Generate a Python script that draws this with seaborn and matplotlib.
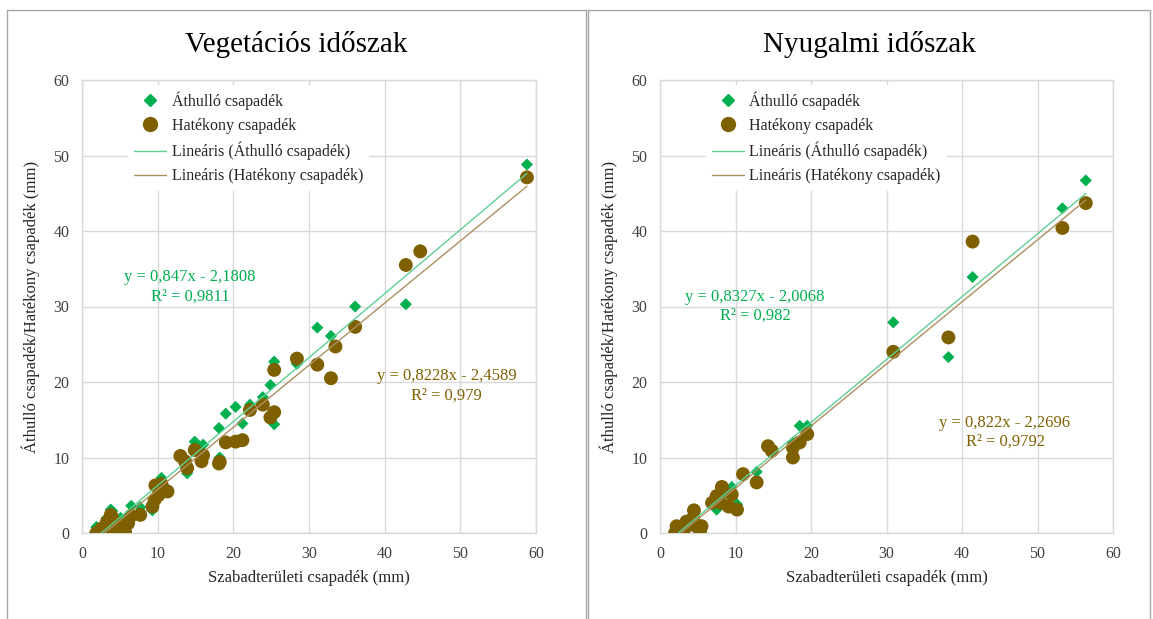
import numpy as np
import pandas as pd
import matplotlib
matplotlib.use("Agg")
import matplotlib.pyplot as plt
from matplotlib.patches import Rectangle
from matplotlib.lines import Line2D
import seaborn as sns

# Vegetációs időszak: open-field rainfall, throughfall, net rainfall (mm)
veg_open = [58.8, 44.7, 42.8, 36.1, 31.1, 32.9, 33.5, 28.4, 25.4, 25.4, 24.9, 23.9,
            22.2, 20.3, 21.2, 19.0, 18.1, 14.9, 16.0, 15.8, 13.0, 13.6, 13.9, 10.5,
            9.7, 11.3, 10.1, 9.6, 9.3, 7.7, 6.5, 6.1, 5.7, 3.8, 5.1, 4.7, 4.3, 3.3,
            2.6, 1.9, 3.2, 4.0, 18.2, 3.6, 2.3]
veg_thr = [48.8, 37.5, 30.3, 30.0, 27.2, 26.1, 24.8, 22.4, 22.7, 14.4, 19.6, 18.0,
           17.0, 16.7, 14.5, 15.8, 13.9, 12.1, 11.7, 10.6, 10.4, 9.6, 7.9, 7.3,
           6.2, 5.8, 5.3, 4.8, 3.0, 3.4, 3.6, 2.0, 0.9, 3.1, 2.0, 1.6, 1.0, 2.0,
           0.6, 0.8, 0.7, 2.9, 10.0, 1.2, 0.3]
veg_net = [47.1, 37.3, 35.5, 27.3, 22.3, 20.5, 24.7, 23.1, 21.6, 16.0, 15.3, 17.0,
           16.3, 12.1, 12.3, 12.0, 9.2, 11.0, 10.3, 9.5, 10.2, 9.5, 8.6, 6.5,
           6.3, 5.5, 5.0, 4.4, 3.5, 2.4, 2.3, 1.3, 0.1, 2.4, 0.4, 1.1, 0.4, 1.5,
           0.6, 0.0, 0.0, 2.0, 9.4, 0.9, 0.2]

# Nyugalmi időszak
nyu_open = [56.4, 53.3, 41.4, 38.2, 30.9, 19.5, 18.5, 17.6, 17.6, 14.3, 14.8, 12.8,
            11.0, 8.2, 9.5, 10.2, 9.1, 7.5, 6.9, 8.0, 4.4, 4.2, 2.2, 2.0, 3.1,
            5.3, 4.9, 2.9, 5.5, 4.5, 3.5, 2.6]
nyu_thr = [46.7, 43.0, 33.9, 23.3, 27.9, 14.2, 14.2, 12.0, 11.0, 11.2, 10.8, 8.1,
           7.6, 5.0, 6.1, 3.8, 3.5, 3.1, 4.0, 4.1, 2.1, 1.5, 0.9, 0.3, 0.4,
           0.9, 1.3, 0.8, 1.0, 2.4, 1.4, 0.5]
nyu_net = [43.7, 40.4, 38.6, 25.9, 24.0, 13.1, 12.0, 11.3, 10.0, 11.5, 10.9, 6.7,
           7.8, 6.1, 5.1, 3.1, 3.5, 4.9, 4.0, 4.0, 2.0, 1.1, 0.9, 0.0, 0.0,
           0.2, 0.9, 0.6, 0.9, 3.0, 1.5, 0.2]

# Excel trendline coefficients (slope, intercept, R²) as printed on the chart
veg_fit = {"thr": (0.847, -2.1808, "0,847x - 2,1808", "0,9811"),
           "net": (0.8228, -2.4589, "0,8228x - 2,4589", "0,979")}
nyu_fit = {"thr": (0.8327, -2.0068, "0,8327x - 2,0068", "0,982"),
           "net": (0.822, -2.2696, "0,822x - 2,2696", "0,9792")}

titles = ["Vegetációs időszak", "Nyugalmi időszak"]
xlabel = "Szabadterületi csapadék (mm)"
ylabel = "Áthulló csapadék/Hatékony csapadék (mm)"
lab_thr = "Áthulló csapadék"
lab_net = "Hatékony csapadék"

GREEN = "#00B050"
BROWN = "#7F6000"
GREEN_LINE = "#5FCF93"
BROWN_LINE = "#AD9060"
GRID = "#D9D9D9"

sns.set_theme(style="white")
plt.rcParams["font.family"] = ["Liberation Serif", "DejaVu Serif"]

fig = plt.figure(figsize=(11.53, 6.19), dpi=100)
W, H = 1153, 619

# chart frames
for x0, x1 in [(7, 586), (588, 1150)]:
    fig.patches.append(Rectangle((x0 / W, -0.05), (x1 - x0) / W, 1.05 - 10 / H,
                                 transform=fig.transFigure, fill=False,
                                 edgecolor="#A6A6A6", lw=1.0))

ax_l = fig.add_axes([82 / W, (H - 533) / H, 454 / W, 453 / H])
ax_r = fig.add_axes([660 / W, (H - 533) / H, 453 / W, 453 / H])

# equation text positions (data coords)
eq_pos = [{"thr": (14.3, 32.6), "net": (48.2, 19.5)},
          {"thr": (12.6, 30.0), "net": (45.7, 13.3)}]

datasets = [(veg_open, veg_thr, veg_net, veg_fit), (nyu_open, nyu_thr, nyu_net, nyu_fit)]

for i, (ax, (xo, yt, yn, fit)) in enumerate(zip([ax_l, ax_r], datasets)):
    df = pd.DataFrame({"open": xo, "thr": yt, "net": yn})

    sns.scatterplot(data=df, x="open", y="thr", ax=ax, marker="D", s=38,
                    color=GREEN, edgecolor="none", zorder=3)
    sns.scatterplot(data=df, x="open", y="net", ax=ax, marker="o", s=100,
                    color=BROWN, edgecolor="none", zorder=4)

    xs = np.array([df["open"].min(), df["open"].max()])
    for key, col in [("thr", GREEN_LINE), ("net", BROWN_LINE)]:
        m, b, _, _ = fit[key]
        sns.lineplot(x=xs, y=m * xs + b, ax=ax, color=col, lw=1.0, zorder=5)

    for key, col in [("thr", GREEN), ("net", BROWN)]:
        _, _, eq, r2 = fit[key]
        px, py = eq_pos[i][key]
        ax.text(px, py, f"y = {eq}\nR² = {r2}", color=col, fontsize=12,
                ha="center", va="center", linespacing=1.25, zorder=6)

    ax.set_xlim(0, 60)
    ax.set_ylim(0, 60)
    ax.set_xticks(range(0, 61, 10))
    ax.set_yticks(range(0, 61, 10))
    ax.grid(True, color=GRID, lw=1.0)
    ax.set_axisbelow(True)
    for sp in ax.spines.values():
        sp.set_color(GRID)
        sp.set_linewidth(1.0)
    ax.tick_params(length=0, labelsize=11.5, pad=9, colors="#404040")
    ax.set_xlabel(xlabel, fontsize=12, labelpad=6, color="#262626")
    ax.set_ylabel(ylabel, fontsize=12, labelpad=10, color="#262626")

    handles = [Line2D([], [], marker="D", ls="none", color=GREEN, markersize=6),
               Line2D([], [], marker="o", ls="none", color=BROWN, markersize=10),
               Line2D([], [], color=GREEN_LINE, lw=1.0),
               Line2D([], [], color=BROWN_LINE, lw=1.0)]
    labels = [lab_thr, lab_net, f"Lineáris ({lab_thr})", f"Lineáris ({lab_net})"]
    leg = ax.legend(handles, labels, loc="upper left", bbox_to_anchor=(0.09, 1.0),
                    fontsize=11.5, frameon=True, framealpha=1.0, edgecolor="none",
                    facecolor="white", handlelength=2.0, handletextpad=0.35,
                    labelspacing=0.5, borderpad=0.4, borderaxespad=0.3)
    leg.set_zorder(7)

    fig.text((7 + 586) / 2 / W if i == 0 else (588 + 1150) / 2 / W, 1 - 44 / H,
             titles[i], fontsize=21, ha="center", va="center", color="black")

fig.savefig("out.png", dpi=100)
